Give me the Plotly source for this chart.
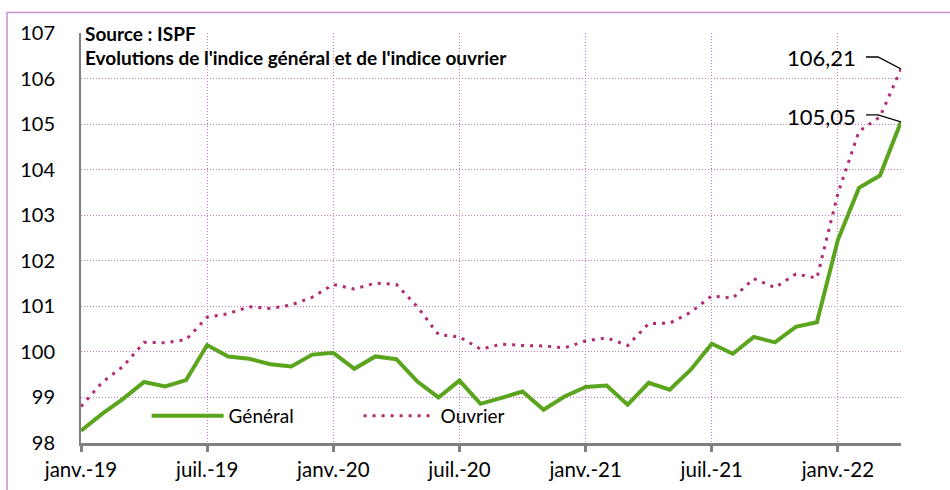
import plotly.graph_objects as go

mois = ["janv.", "févr.", "mars", "avr.", "mai", "juin",
        "juil.", "août", "sept.", "oct.", "nov.", "déc."]
categories = [f"{m}-{a}" for a in ["19", "20", "21", "22"] for m in mois][:40]

general = [98.27, 98.64, 98.97, 99.34, 99.24, 99.38, 100.15, 99.90, 99.85, 99.73,
           99.68, 99.94, 99.98, 99.63, 99.90, 99.84, 99.35, 99.00, 99.37, 98.86,
           98.99, 99.13, 98.73, 99.02, 99.23, 99.26, 98.84, 99.32, 99.17, 99.61,
           100.18, 99.96, 100.33, 100.21, 100.55, 100.65, 102.46, 103.60, 103.87, 105.05]
ouvrier = [98.80, 99.33, 99.68, 100.21, 100.20, 100.27, 100.76, 100.84, 100.99, 100.95,
           101.03, 101.20, 101.48, 101.38, 101.51, 101.48, 100.99, 100.38, 100.33, 100.06,
           100.17, 100.14, 100.13, 100.09, 100.24, 100.31, 100.14, 100.62, 100.63, 100.87,
           101.23, 101.18, 101.61, 101.41, 101.71, 101.62, 103.48, 104.84, 105.16, 106.21]

tick_labels = ["janv.-19", "juil.-19", "janv.-20", "juil.-20",
               "janv.-21", "juil.-21", "janv.-22"]
y_ticks = [98, 99, 100, 101, 102, 103, 104, 105, 106, 107]

FONT = "Lato, 'Open Sans', sans-serif"
GREEN = "#5BA51E"
PINK = "#B22A72"
GRID = "#C777C9"

fig = go.Figure()
fig.add_trace(go.Scatter(x=categories, y=general, name="Général", mode="lines",
                         line=dict(color=GREEN, width=4)))
fig.add_trace(go.Scatter(x=categories, y=ouvrier, name="Ouvrier", mode="lines",
                         line=dict(color=PINK, width=3, dash="3px,6px")))

last = categories[-1]


def fmt(v):
    return f"{v:.2f}".replace(".", ",")


for val, tshift, lshift in [(ouvrier[-1], 11, 12), (general[-1], 5, 7)]:
    fig.add_annotation(x=last, y=val, xref="x", yref="y", text=fmt(val),
                       showarrow=False, xanchor="right", yanchor="middle",
                       xshift=-43, yshift=tshift,
                       font=dict(family=FONT, size=22, color="black"))
    fig.add_shape(type="path", xref="x", yref="y", xsizemode="pixel", ysizemode="pixel",
                  xanchor=last, yanchor=val,
                  path=f"M-35,{lshift} L-23,{lshift} L0,0",
                  line=dict(color="black", width=1.3))

fig.add_annotation(x=0.003, y=0.999, xref="paper", yref="paper", xanchor="left",
                   yanchor="middle", showarrow=False, text="<b>Source : ISPF</b>",
                   font=dict(family=FONT, size=19, color="black"))
fig.add_annotation(x=0.003, y=0.941, xref="paper", yref="paper", xanchor="left",
                   yanchor="middle", showarrow=False,
                   text="<b>Evolutions de l'indice général et de l'indice ouvrier</b>",
                   font=dict(family=FONT, size=19, color="black"))

# outer frame
fig.add_shape(type="rect", xref="paper", yref="paper",
              x0=-0.0902, x1=1.08, y0=-0.2, y1=1.0500,
              line=dict(color="#C98FCB", width=1.5), layer="below")

fig.update_layout(
    width=950, height=490,
    margin=dict(l=81, r=49, t=33, b=47, autoexpand=False),
    paper_bgcolor="white", plot_bgcolor="white",
    font=dict(family=FONT, size=20, color="black"),
    showlegend=True,
    legend=dict(orientation="h", x=0.08, y=0.066, xanchor="left", yanchor="middle",
                bgcolor="rgba(0,0,0,0)", font=dict(family=FONT, size=19),
                itemwidth=72, entrywidth=125, tracegroupgap=0),
    xaxis=dict(type="category", range=[0, len(categories) - 1], automargin=False,
               tickmode="array", tickvals=[categories[i] for i in range(0, 37, 6)],
               ticktext=tick_labels,
               showline=True, linecolor="#808080", linewidth=2.5,
               ticks="outside", ticklen=6, tickwidth=2.5, tickcolor="#808080",
               showgrid=True, gridcolor=GRID, gridwidth=1, griddash="1px,2px",
               zeroline=False, ticklabelstandoff=1,
               tickfont=dict(family=FONT, size=20.5)),
    yaxis=dict(range=[98, 107], tickmode="array", tickvals=y_ticks, automargin=False,
               showline=True, linecolor="#808080", linewidth=2,
               ticks="", showgrid=True, gridcolor=GRID, gridwidth=1,
               griddash="1px,2px", zeroline=False, ticklabelstandoff=20,
               tickfont=dict(family=FONT, size=20)),
)

fig.write_html("out.html", config={"displayModeBar": False},
               post_script="document.body.style.margin='0';")
